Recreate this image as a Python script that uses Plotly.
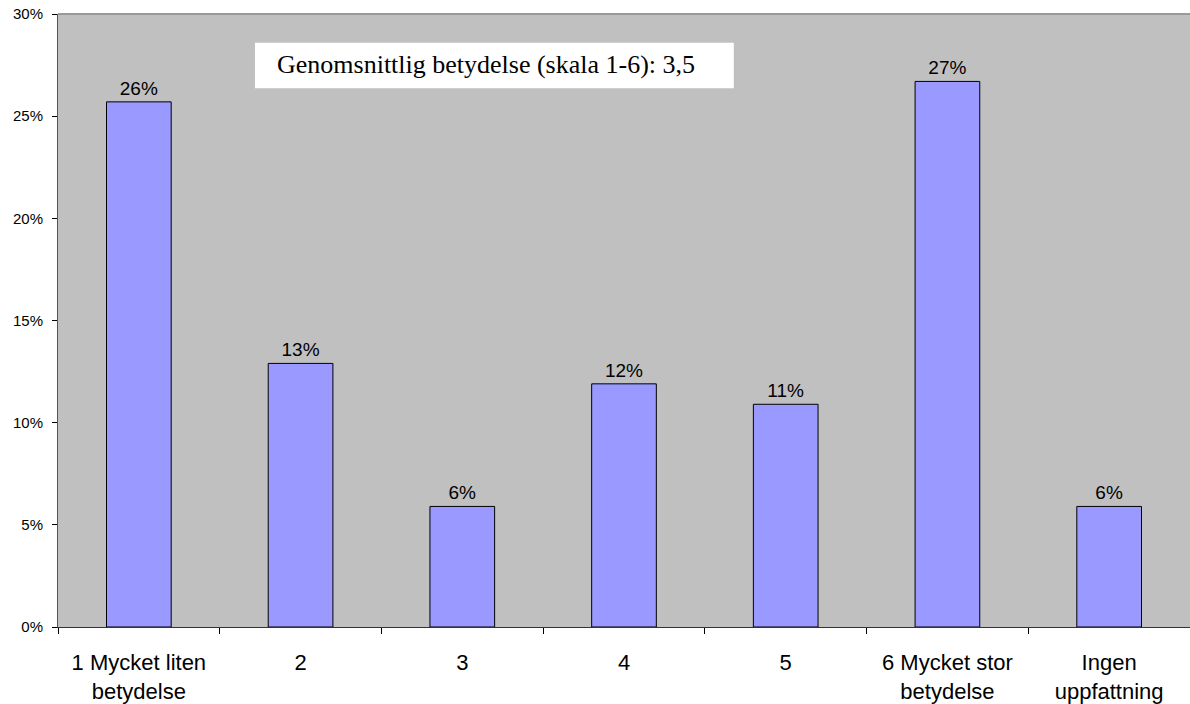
import plotly.graph_objects as go

# Survey answer distribution (share of respondents)
categories = [
    "1 Mycket liten<br>betydelse",
    "2",
    "3",
    "4",
    "5",
    "6 Mycket stor<br>betydelse",
    "Ingen<br>uppfattning",
]
shares = [25.7, 12.9, 5.9, 11.9, 10.9, 26.7, 5.9]
y_ticks = [0, 5, 10, 15, 20, 25, 30]
note_text = "Genomsnittlig betydelse (skala 1-6): 3,5"

fig = go.Figure(
    go.Bar(
        x=categories,
        y=shares,
        marker=dict(color="#9999FF", line=dict(color="#000000", width=1)),
        text=[f"{v:.0f}%" for v in shares],
        textposition="outside",
        textfont=dict(family="Liberation Sans, Arial", size=19, color="#000000"),
        cliponaxis=False,
    )
)

fig.update_layout(
    width=1190,
    height=704,
    margin=dict(l=58, r=0, t=14, b=77),
    paper_bgcolor="#FFFFFF",
    plot_bgcolor="#C0C0C0",
    bargap=0.6,
    showlegend=False,
    font=dict(family="Liberation Sans, Arial", color="#000000"),
    xaxis=dict(
        tickson="boundaries",
        ticks="outside",
        ticklen=6,
        tickcolor="#000000",
        showline=True,
        linecolor="#333333",
        linewidth=1,
        showgrid=False,
        tickfont=dict(size=22),
        ticklabelstandoff=16,
        fixedrange=True,
    ),
    yaxis=dict(
        range=[0, 30],
        tickvals=y_ticks,
        ticktext=[f"{t}%" for t in y_ticks],
        ticks="outside",
        ticklen=5,
        tickcolor="#000000",
        showline=True,
        linecolor="#555555",
        linewidth=1,
        showgrid=False,
        zeroline=False,
        tickfont=dict(size=15),
        ticklabelstandoff=6,
        fixedrange=True,
    ),
    shapes=[
        # top border of the plot area
        dict(type="line", xref="paper", yref="paper", x0=0, x1=1, y0=1, y1=1,
             line=dict(color="#999999", width=2)),
        # white box behind the average note
        dict(type="rect", xref="paper", yref="paper", x0=0.174, x1=0.597,
             y0=0.879, y1=0.953, fillcolor="#FFFFFF", line=dict(width=0),
             layer="above"),
    ],
    annotations=[
        dict(
            text=note_text,
            xref="paper", yref="paper",
            x=0.192, y=0.918,
            xanchor="left", yanchor="middle",
            showarrow=False,
            font=dict(family="Liberation Serif, Times New Roman", size=26,
                      color="#000000"),
        )
    ],
)

fig.write_html("out.html")
